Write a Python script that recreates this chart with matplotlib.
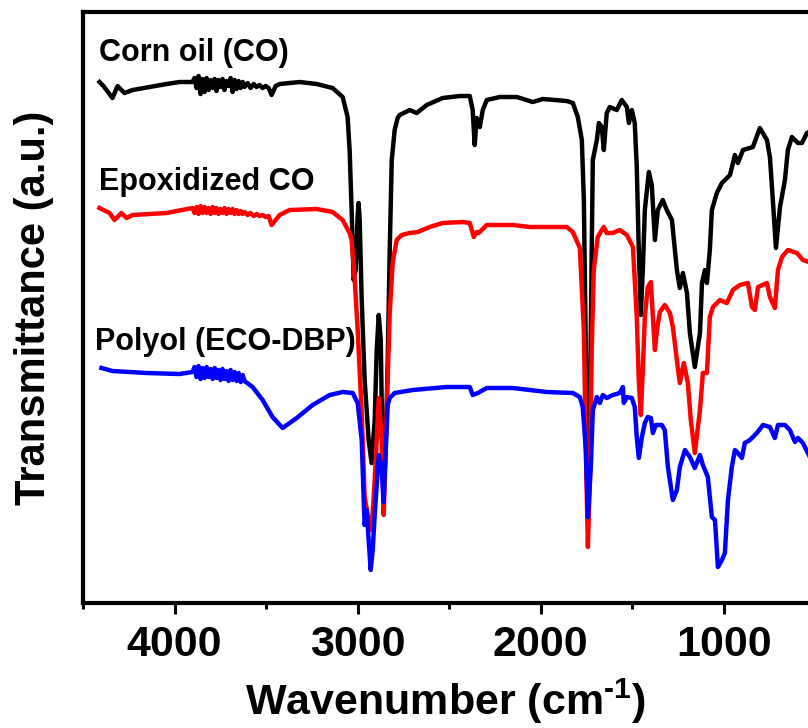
import matplotlib
matplotlib.use("Agg")
import matplotlib.pyplot as plt
from matplotlib.ticker import MultipleLocator

plt.rcParams['font.family'] = ['Liberation Sans', 'DejaVu Sans']
plt.rcParams['font.weight'] = 'bold'
plt.rcParams['mathtext.fontset'] = 'custom'
plt.rcParams['mathtext.rm'] = 'Liberation Sans:bold'
plt.rcParams['mathtext.bf'] = 'Liberation Sans:bold'

# ---------------- data (wavenumber in cm-1, transmittance in a.u.) ----------------
# water-vapour noise region sampled on a shared wavenumber grid
noise_wn = [3902, 3891, 3880, 3869, 3858, 3847, 3836, 3825, 3814, 3803, 3792,
            3781, 3771, 3760, 3749, 3738, 3727, 3716, 3705, 3694, 3683, 3672,
            3661, 3650, 3639, 3628, 3618, 3601, 3585, 3568, 3552, 3536, 3519,
            3503, 3486]

co_wn_hi = [4410, 4388, 4339, 4311, 4301, 4273, 4229, 4137, 4044, 3973]
co_t_hi = [521, 517, 505, 517, 515, 510, 513, 516, 519, 521]
co_t_noise = [521, 525, 515, 527, 509, 524, 511, 525, 513, 523, 515,
              524, 512, 523, 516, 524, 513, 522, 517, 525, 511, 523,
              514, 522, 515, 521, 516, 520, 515, 519, 516, 518, 515,
              517, 515]
co_wn_lo = [3470, 3448, 3426, 3317, 3224, 3137, 3082, 3055, 3044, 3033, 3022, 3011,
            3000, 2995, 2989, 2978, 2962, 2940, 2924, 2907, 2896, 2885, 2874, 2869,
            2858, 2847, 2836, 2825, 2814, 2798, 2782, 2771, 2716, 2678, 2623, 2536,
            2443, 2388, 2372, 2361, 2350, 2333, 2317, 2295, 2224, 2131, 2044, 1989,
            1858, 1825, 1798, 1776, 1765, 1754, 1743, 1732, 1722, 1716, 1694, 1683,
            1667, 1656, 1640, 1623, 1585, 1558, 1530, 1519, 1503, 1487, 1476, 1465,
            1454, 1443, 1432, 1410, 1394, 1377, 1361, 1334, 1312, 1284, 1268, 1257,
            1241, 1224, 1202, 1186, 1159, 1131, 1120, 1104, 1093, 1077, 1066, 1039,
            1011, 967, 940, 924, 896, 842, 804, 765, 749, 733, 716, 694, 667, 651,
            629, 596, 574, 547, 536]
co_t_lo = [508, 517, 519, 521, 519, 515, 506, 486, 453, 393, 323, 333,
           388, 400, 383, 303, 223, 163, 140, 183, 253, 288, 263, 203,
           113, 153, 243, 353, 443, 473, 485, 488, 493, 490, 498, 505,
           507, 507, 493, 458, 485, 476, 493, 503, 506, 506, 501, 504,
           502, 500, 486, 463, 403, 253, 98, 183, 353, 443, 463, 480,
           476, 453, 490, 496, 493, 503, 496, 480, 493, 480, 436, 353,
           288, 333, 393, 431, 418, 363, 393, 403, 393, 383, 353, 333,
           315, 330, 310, 270, 236, 270, 320, 333, 320, 353, 393, 410,
           420, 428, 448, 440, 453, 456, 475, 463, 446, 403, 355, 396, 423, 453,
           466, 460, 460, 470, 471]

eco_wn_hi = [4410, 4355, 4328, 4290, 4262, 4229, 4044]
eco_t_hi = [395, 390, 383, 390, 385, 388, 390]
eco_t_noise = [395, 390, 396, 389, 397, 390, 396, 390, 395, 389, 396,
               390, 395, 389, 394, 390, 395, 389, 394, 390, 394, 389,
               393, 389, 392, 389, 391, 388, 390, 387, 389, 387, 388,
               386, 387]
eco_wn_lo = [3470, 3426, 3372, 3224, 3137, 3082, 3044, 3033, 3016, 3000,
             2978, 2962, 2940, 2924, 2907, 2885, 2869, 2858, 2842, 2825, 2809,
             2787, 2760, 2716, 2672, 2607, 2536, 2426, 2388, 2366, 2350, 2339,
             2295, 2153, 2060, 1989, 1858, 1825, 1787, 1765, 1754, 1743, 1732,
             1722, 1711, 1689, 1667, 1656, 1640, 1607, 1569, 1530, 1497, 1476,
             1465, 1454, 1443, 1432, 1416, 1399, 1388, 1377, 1366, 1350, 1323,
             1295, 1279, 1257, 1241, 1219, 1197, 1181, 1159, 1131, 1115, 1093,
             1077, 1060, 1022, 984, 951, 913, 869, 847, 831, 814, 765, 749, 722,
             705, 683, 651, 601, 569, 536]
eco_t_lo = [378, 388, 393, 394, 391, 383, 370, 363, 323, 273,
            190, 106, 83, 73, 123, 205, 163, 88, 190, 290, 340,
            363, 368, 370, 371, 376, 380, 381, 380, 366, 371, 370,
            378, 378, 376, 376, 376, 371, 355, 273, 153, 56, 123,
            253, 333, 366, 373, 376, 370, 370, 373, 368, 356, 286,
            223, 188, 233, 286, 316, 321, 286, 253, 273, 291, 298,
            290, 276, 243, 220, 240, 220, 183, 150, 193, 230, 230,
            286, 296, 303, 300, 313, 318, 320, 296, 293, 316, 320, 306, 295,
            333, 346, 353, 350, 343, 341]

pol_wn_hi = [4399, 4339, 4153, 3973]
pol_t_hi = [235, 232, 230, 229]
pol_t_noise = [231, 236, 226, 237, 224, 235, 225, 236, 226, 234, 224,
               235, 225, 233, 223, 234, 224, 232, 222, 233, 223, 231,
               222, 230, 221, 228, 222]
pol_wn_lo = [3574, 3519, 3465, 3410, 3333, 3246, 3153, 3082, 3027, 3000, 2978,
             2967, 2962, 2951, 2940, 2929, 2918, 2907, 2885, 2869, 2858, 2847,
             2836, 2825, 2798, 2700, 2514, 2388, 2372, 2344, 2295, 2153, 1967,
             1825, 1787, 1771, 1754, 1743, 1727, 1716, 1694, 1678, 1661, 1640,
             1607, 1569, 1552, 1547, 1530, 1503, 1487, 1476, 1465, 1448, 1432,
             1416, 1399, 1388, 1372, 1339, 1323, 1306, 1279, 1257, 1241, 1213,
             1186, 1159, 1131, 1115, 1088, 1066, 1049, 1033, 1011, 995, 978, 957,
             940, 924, 902, 886, 858, 820, 787, 749, 722, 705, 667, 640, 612, 596,
             569, 536]
pol_t_lo = [216, 203, 186, 175, 185, 198, 208, 211, 210, 200, 163,
            103, 78, 93, 63, 33, 53, 88, 148, 136, 101, 153,
            198, 205, 210, 213, 216, 216, 208, 210, 215, 215, 211,
            210, 206, 196, 153, 86, 136, 193, 206, 200, 208, 205,
            208, 210, 216, 200, 206, 205, 196, 166, 145, 166, 180,
            186, 185, 170, 178, 178, 173, 136, 103, 113, 136, 153,
            146, 135, 148, 138, 126, 86, 83, 36, 43, 50, 103, 136,
            153, 150, 145, 160, 163, 170, 178, 176, 165, 178, 178, 173, 161, 165,
            160, 148]

co_wn = co_wn_hi + noise_wn + co_wn_lo
co_t = co_t_hi + co_t_noise + co_t_lo
eco_wn = eco_wn_hi + noise_wn + eco_wn_lo
eco_t = eco_t_hi + eco_t_noise + eco_t_lo
pol_wn = pol_wn_hi + noise_wn[:len(pol_t_noise)] + pol_wn_lo
pol_t = pol_t_hi + pol_t_noise + pol_t_lo

names = ["Corn oil (CO)", "Epoxidized CO", "Polyol (ECO-DBP)"]
colors = ["#000000", "#ff0000", "#0000ff"]
label_t = [542, 413, 253]
label_wn = [4410, 4410, 4437]

xticks = [4000, 3000, 2000, 1000]

# ---------------- figure ----------------
fig = plt.figure(figsize=(8.08, 7.28), dpi=100)
ax = fig.add_axes([0.1027, 0.1717, 0.8973, 0.8118])

for name, wn, t, col, ly, lx in zip(names, [co_wn, eco_wn, pol_wn],
                                    [co_t, eco_t, pol_t], colors,
                                    label_t, label_wn):
    ax.plot(wn, t, color=col, lw=3.2, solid_joinstyle='round')
    ax.text(lx, ly, name, fontsize=22, fontweight='bold', color='black',
            ha='left', va='baseline')

ax.set_xlim(4500, 541)
ax.set_ylim(0, 591)
ax.set_xticks(xticks)
ax.set_xticklabels([str(v) for v in xticks])
ax.xaxis.set_minor_locator(MultipleLocator(500))
ax.tick_params(axis='x', which='major', direction='out', length=8, width=2.2,
               labelsize=31, pad=8)
ax.tick_params(axis='x', which='minor', direction='out', length=4, width=2.2)
ax.tick_params(axis='y', which='both', left=False, labelleft=False)

for lab in ax.get_xticklabels():
    lab.set_fontweight('bold')

for s in ['left', 'bottom', 'top']:
    ax.spines[s].set_linewidth(3.0)
ax.spines['right'].set_visible(False)

ax.set_xlabel(r'Wavenumber (cm$^{\text{-}\mathbf{1}}$)', fontsize=31,
              fontweight='bold', labelpad=8)
ax.set_ylabel('Transmittance (a.u.)', fontsize=30, fontweight='bold',
              labelpad=21)

fig.savefig("out.png", dpi=100)
